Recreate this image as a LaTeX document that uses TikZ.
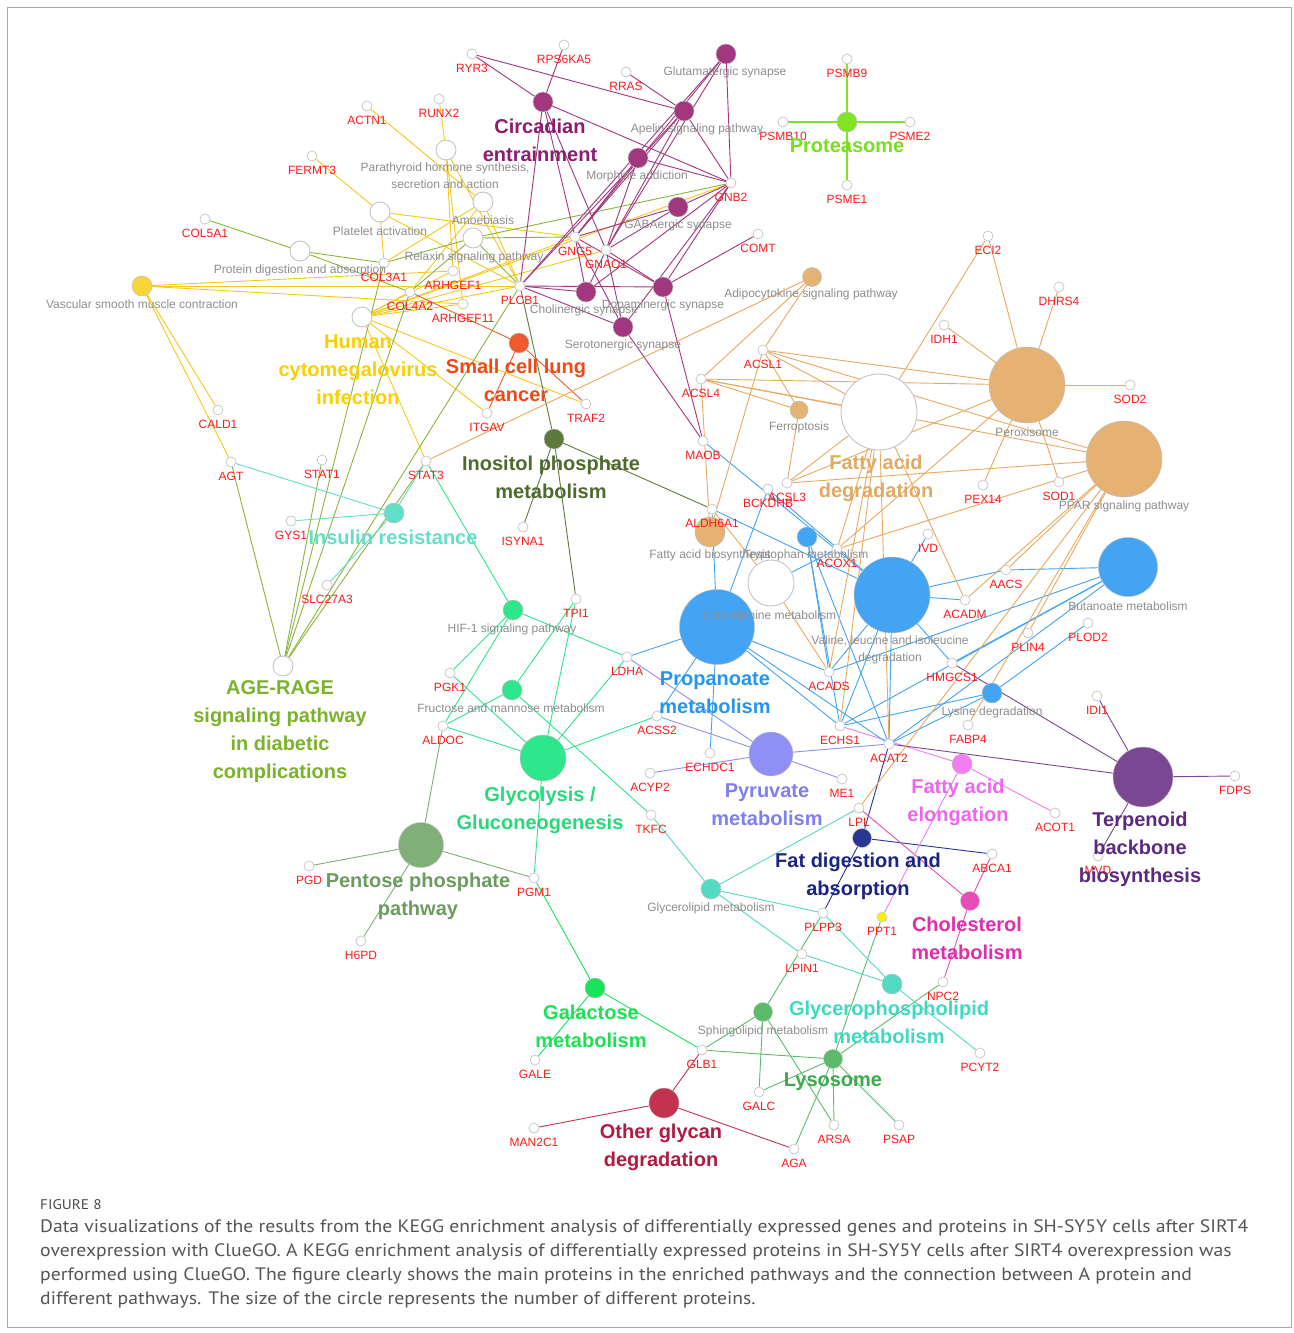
\documentclass[tikz,border=0pt]{standalone}
\usepackage{fontspec}
\setmainfont{Liberation Sans}
\newfontfamily\capfont{PT Sans}
\usetikzlibrary{backgrounds}

% palette
\definecolor{genered}{HTML}{FF1A1A}
\definecolor{pathgray}{HTML}{8E8E8E}
\definecolor{ringgray}{HTML}{C4C4C4}
\definecolor{framegray}{HTML}{A8A8A8}
\definecolor{capgray}{HTML}{555555}
\definecolor{cYel}{HTML}{F7C81C}
\definecolor{cYelF}{HTML}{F9D637}
\definecolor{cYelT}{HTML}{FAD000}
\definecolor{cOli}{HTML}{8CB43B}
\definecolor{cOliT}{HTML}{7BB22C}
\definecolor{cPur}{HTML}{A2367F}
\definecolor{cPurT}{HTML}{8B1C6E}
\definecolor{cLime}{HTML}{80E324}
\definecolor{cLimeT}{HTML}{77E01A}
\definecolor{cOra}{HTML}{F05A2C}
\definecolor{cOraT}{HTML}{EE4A18}
\definecolor{cDGr}{HTML}{5D7A3C}
\definecolor{cDGrT}{HTML}{4E6A2E}
\definecolor{cIns}{HTML}{62DFC9}
\definecolor{cGly}{HTML}{2EE68C}
\definecolor{cGlyT}{HTML}{28D97A}
\definecolor{cSage}{HTML}{80AF78}
\definecolor{cSageT}{HTML}{6C9C60}
\definecolor{cGal}{HTML}{19E35A}
\definecolor{cGalT}{HTML}{1DE056}
\definecolor{cCrim}{HTML}{C3334F}
\definecolor{cCrimT}{HTML}{B01C40}
\definecolor{cSph}{HTML}{5CBB6A}
\definecolor{cSphT}{HTML}{3BAA4C}
\definecolor{cTurq}{HTML}{52DAC3}
\definecolor{cTurqT}{HTML}{40D9C0}
\definecolor{cNavy}{HTML}{2A3594}
\definecolor{cNavyT}{HTML}{1A2580}
\definecolor{cMag}{HTML}{E84CB7}
\definecolor{cMagT}{HTML}{E02DAA}
\definecolor{cPink}{HTML}{F27CF0}
\definecolor{cPinkT}{HTML}{EE66EE}
\definecolor{cTerp}{HTML}{7B4692}
\definecolor{cTerpT}{HTML}{5B2A7E}
\definecolor{cViol}{HTML}{8F8FF6}
\definecolor{cViolT}{HTML}{7F7FF0}
\definecolor{cBlue}{HTML}{42A4F2}
\definecolor{cBlueT}{HTML}{2495F0}
\definecolor{cTan}{HTML}{E5B274}
\definecolor{cTanE}{HTML}{E8A95E}
\definecolor{cTanT}{HTML}{E0AA62}
\definecolor{cPPT}{HTML}{FFF200}

\tikzset{
  gene/.style={circle, draw=ringgray, fill=white, line width=0.7pt, inner sep=0pt, minimum size=10pt},
  hub/.style={circle, draw=gray!50, line width=0.5pt, inner sep=0pt},
  whub/.style={circle, draw=ringgray, fill=white, line width=0.9pt, inner sep=0pt},
  glab/.style={text=genered, font=\fontsize{12}{12}\selectfont, inner sep=0pt},
  plab/.style={text=pathgray, font=\fontsize{12}{17}\selectfont, inner sep=0pt, align=center},
  biglab/.style={font=\bfseries\fontsize{20}{28}\selectfont, inner sep=0pt, align=center},
  ed/.style={line width=0.9pt},
  capline/.style={anchor=base west, inner sep=0pt, text=capgray},
}

\newcommand{\genenode}[4][]{%
  \node[gene,#1] (#2) at (#3,#4) {};
  \node[glab] (#2-t) at (#3,#4+14) {#2};}
\newcommand{\hubnode}[5]{\node[hub, fill=#5, minimum size=#4pt] (#1) at (#2,#3) {};}
\newcommand{\whubnode}[4]{\node[whub, minimum size=#4pt] (#1) at (#2,#3) {};}
\newcommand{\capstyle}{\capfont\fontsize{18}{24}\selectfont}
\newcommand{\capfirst}{Data visualizations of the results from the KEGG enrichment analysis of differentially expressed genes and proteins in SH-SY5Y cells after SIRT4}
\newsavebox{\capmeasure}

\begin{document}
\sbox{\capmeasure}{\capstyle\capfirst}%
\pgfmathsetmacro{\capsc}{1208/\wd\capmeasure}%
\begin{tikzpicture}[x=1pt,y=-1pt]
\begin{pgfonlayer}{background}
  \path[use as bounding box, fill=white] (0,0) rectangle (1293,1333);
\end{pgfonlayer}
\draw[framegray, line width=1pt] (7.5,7.5) rectangle (1291,1327);

% ---------- pathway terms ----------
\hubnode{vsmc}{142}{286}{20}{cYelF}
\whubnode{protdig}{300}{251}{20}
\whubnode{platelet}{380}{212}{20}
\whubnode{parath}{446}{150}{20}
\whubnode{amoeb}{483}{202}{20}
\whubnode{relaxin}{473}{238}{20}
\whubnode{hcmv}{362}{317}{20}
\whubnode{agerage}{283}{666}{20}
\hubnode{circ}{543}{102}{20}{cPur}
\hubnode{glut}{726}{54}{20}{cPur}
\hubnode{apelin}{684}{111}{20}{cPur}
\hubnode{morph}{638}{158}{20}{cPur}
\hubnode{gaba}{678}{207}{20}{cPur}
\hubnode{dopa}{663}{287}{20}{cPur}
\hubnode{chol}{586}{292}{20}{cPur}
\hubnode{sero}{623}{327}{20}{cPur}
\hubnode{prot}{847}{122}{20}{cLime}
\hubnode{sclc}{519}{343}{20}{cOra}
\hubnode{inos}{554}{439}{20}{cDGr}
\hubnode{insul}{394}{513}{20}{cIns}
\hubnode{adipo}{812}{277}{19}{cTan}
\hubnode{ferro}{799}{410}{18}{cTan}
\whubnode{fad}{879}{412}{76}
\hubnode{perox}{1027}{385}{76}{cTan}
\hubnode{ppar}{1124}{459}{76}{cTan}
\hubnode{fab}{710}{532}{30}{cTan}
\hubnode{trp}{807}{537}{20}{cBlue}
\whubnode{bala}{771}{583}{46}
\hubnode{prop}{717}{627}{75}{cBlue}
\hubnode{val}{892}{595}{76}{cBlue}
\hubnode{buta}{1128}{567}{59}{cBlue}
\hubnode{lys}{992}{693}{20}{cBlue}
\hubnode{pyr}{771}{754}{44}{cViol}
\hubnode{elo}{962}{764}{20}{cPink}
\hubnode{terp}{1143}{777}{60}{cTerp}
\hubnode{fatdig}{862}{838}{19}{cNavy}
\hubnode{chole}{970}{901}{19}{cMag}
\hubnode{glyl}{711}{889}{20}{cTurq}
\hubnode{glyp}{892}{984}{20}{cTurq}
\hubnode{sph}{763}{1012}{19}{cSph}
\hubnode{lyso}{833}{1059}{19}{cSph}
\hubnode{oglyc}{664}{1103}{30}{cCrim}
\hubnode{galac}{595}{988}{20}{cGal}
\hubnode{pent}{421}{845}{45}{cSage}
\hubnode{glyc}{543}{758}{46}{cGly}
\hubnode{hif}{513}{610}{20}{cGly}
\hubnode{fruc}{512}{690}{20}{cGly}

% ---------- genes ----------
\genenode{RYR3}{472}{54}
\genenode{RPS6KA5}{564}{45}
\genenode{RRAS}{626}{72}
\genenode{RUNX2}{439}{99}
\genenode{ACTN1}{367}{106}
\genenode{FERMT3}{312}{156}
\genenode{COL5A1}{205}{219}
\genenode{COL3A1}{384}{263}
\genenode{ARHGEF1}{453}{271}
\genenode{COL4A2}{410}{292}
\genenode{ARHGEF11}{463}{304}
\genenode{PLCB1}{520}{286}
\genenode{GNG5}{575}{237}
\genenode{GNAO1}{606}{250}
\genenode{GNB2}{731}{183}
\genenode{COMT}{758}{234}
\genenode{PSMB9}{847}{59}
\genenode{PSMB10}{783}{122}
\genenode{PSME2}{910}{122}
\genenode{PSME1}{847}{185}
\genenode{ECI2}{988}{236}
\genenode{DHRS4}{1059}{287}
\genenode{IDH1}{944}{325}
\genenode{SOD2}{1130}{385}
\genenode{ACSL1}{763}{350}
\genenode{ACSL4}{701}{379}
\genenode{MAOB}{703}{441}
\genenode{TRAF2}{586}{404}
\genenode{ITGAV}{487}{413}
\genenode{CALD1}{218}{410}
\genenode{AGT}{231}{462}
\genenode{STAT1}{322}{460}
\genenode{STAT3}{426}{461}
\genenode{GYS1}{291}{521}
\genenode{SLC27A3}{327}{585}
\genenode{ISYNA1}{523}{527}
\genenode{TPI1}{576}{599}
\genenode{ACSL3}{787}{483}
\genenode{BCKDHB}{768}{489}
\genenode{ALDH6A1}{712}{509}
\genenode{ACOX1}{837}{549}
\genenode{IVD}{928}{534}
\genenode{PEX14}{983}{485}
\genenode{SOD1}{1059}{482}
\genenode{AACS}{1006}{570}
\genenode{ACADM}{965}{600}
\genenode{PLIN4}{1028}{633}
\genenode{PLOD2}{1088}{623}
\genenode{HMGCS1}{952}{663}
\genenode{ACADS}{829}{672}
\genenode{ECHS1}{840}{726}
\genenode{ACAT2}{889}{744}
\genenode{FABP4}{968}{725}
\genenode{IDI1}{1097}{696}
\genenode{FDPS}{1235}{776}
\genenode{ACOT1}{1055}{813}
\genenode{MVD}{1098}{856}
\genenode{ABCA1}{992}{854}
\genenode{LPL}{859}{808}
\genenode{ME1}{842}{779}
\genenode{ECHDC1}{710}{753}
\genenode{ACSS2}{657}{716}
\genenode{LDHA}{627}{657}
\genenode{ACYP2}{650}{773}
\genenode{TKFC}{651}{815}
\genenode{PGK1}{450}{673}
\genenode{ALDOC}{443}{726}
\genenode{PGD}{309}{866}
\genenode{PGM1}{534}{878}
\genenode{H6PD}{361}{941}
\genenode{GALE}{535}{1060}
\genenode{MAN2C1}{534}{1128}
\genenode{GLB1}{702}{1050}
\genenode{GALC}{759}{1092}
\genenode{ARSA}{834}{1125}
\genenode{PSAP}{899}{1125}
\genenode{AGA}{794}{1149}
\genenode{PLPP3}{823}{913}
\genenode[fill=cPPT, draw=gray!40]{PPT1}{882}{917}
\genenode{LPIN1}{802}{954}
\genenode{NPC2}{943}{982}
\genenode{PCYT2}{980}{1053}

% ---------- connectors ----------
\begin{pgfonlayer}{background}
\foreach \a/\b in {vsmc/CALD1, vsmc/AGT, vsmc/ARHGEF1, vsmc/PLCB1, vsmc/ARHGEF11,
  platelet/FERMT3, platelet/COL3A1, platelet/PLCB1, platelet/GNG5,
  parath/RUNX2, parath/ARHGEF1, parath/ARHGEF11, parath/PLCB1,
  amoeb/ACTN1, amoeb/COL3A1, amoeb/COL4A2, amoeb/PLCB1,
  hcmv/COL4A2, hcmv/ARHGEF1, hcmv/PLCB1, hcmv/GNG5, hcmv/GNB2, hcmv/GNAO1,
  hcmv/TRAF2, hcmv/ITGAV, hcmv/STAT3, hcmv/ARHGEF11}
  \draw[ed, cYel] (\a) -- (\b);
\foreach \a/\b in {protdig/COL5A1, protdig/COL3A1, protdig/COL4A2,
  agerage/AGT, agerage/STAT1, agerage/STAT3, agerage/COL3A1, agerage/COL4A2, agerage/PLCB1,
  relaxin/COL4A2, relaxin/PLCB1, relaxin/GNB2, relaxin/GNG5, relaxin/COL3A1}
  \draw[ed, cOli] (\a) -- (\b);
\foreach \a/\b in {circ/RYR3, circ/RPS6KA5, circ/PLCB1, circ/GNG5, circ/GNAO1, circ/GNB2,
  apelin/RYR3, apelin/RRAS, apelin/GNB2, apelin/GNG5, apelin/GNAO1, apelin/PLCB1,
  glut/GNB2, glut/GNG5, glut/GNAO1, glut/PLCB1,
  morph/GNB2, morph/GNG5, morph/GNAO1,
  gaba/GNB2, gaba/GNG5, gaba/GNAO1,
  dopa/GNB2, dopa/GNG5, dopa/GNAO1, dopa/COMT, dopa/MAOB, dopa/PLCB1,
  chol/PLCB1, chol/GNG5, chol/GNAO1, chol/GNB2,
  sero/PLCB1, sero/GNG5, sero/GNAO1, sero/GNB2, sero/MAOB}
  \draw[ed, cPur] (\a) -- (\b);
\foreach \b in {PSMB9, PSMB10, PSME2, PSME1} \draw[ed, line width=1.2pt, cLime] (prot) -- (\b);
\foreach \b in {COL4A2, ITGAV, TRAF2} \draw[ed, cOra] (sclc) -- (\b);
\foreach \b in {PLCB1, ISYNA1, TPI1, ALDH6A1} \draw[ed, cDGr] (inos) -- (\b);
\foreach \b in {AGT, GYS1, SLC27A3, STAT3} \draw[ed, cIns] (insul) -- (\b);
\foreach \a/\b in {hif/STAT3, hif/PGK1, hif/ALDOC, hif/LDHA,
  fruc/TPI1, fruc/ALDOC, fruc/TKFC,
  glyc/ALDOC, glyc/PGK1, glyc/TPI1, glyc/LDHA, glyc/ACSS2, glyc/PGM1}
  \draw[ed, cGly] (\a) -- (\b);
\foreach \b in {ALDOC, PGD, H6PD, PGM1} \draw[ed, cSage] (pent) -- (\b);
\foreach \b in {PGM1, GALE, GLB1} \draw[ed, cGal] (galac) -- (\b);
\foreach \b in {GLB1, MAN2C1, AGA} \draw[ed, cCrim] (oglyc) -- (\b);
\foreach \a/\b in {sph/GLB1, sph/GALC, sph/ARSA, sph/PLPP3,
  lyso/GLB1, lyso/GALC, lyso/ARSA, lyso/PSAP, lyso/AGA, lyso/NPC2, lyso/PPT1}
  \draw[ed, cSph] (\a) -- (\b);
\foreach \a/\b in {glyl/TKFC, glyl/LPL, glyl/PLPP3, glyl/LPIN1,
  glyp/PLPP3, glyp/LPIN1, glyp/PCYT2}
  \draw[ed, cTurq] (\a) -- (\b);
\foreach \b in {ACAT2, ABCA1, PLPP3} \draw[ed, cNavy] (fatdig) -- (\b);
\foreach \b in {LPL, ABCA1, NPC2} \draw[ed, cMag] (chole) -- (\b);
\foreach \b in {ECHS1, ACOT1, PPT1} \draw[ed, cPink] (elo) -- (\b);
\foreach \b in {HMGCS1, ACAT2, IDI1, FDPS, MVD} \draw[ed, cTerp] (terp) -- (\b);
\foreach \b in {LDHA, ACSS2, ACYP2, ME1, ACAT2} \draw[ed, cViol] (pyr) -- (\b);
\foreach \a/\b in {prop/LDHA, prop/ACSS2, prop/ECHDC1, prop/ALDH6A1, prop/BCKDHB,
  prop/ACADS, prop/ECHS1, prop/ACAT2,
  val/ALDH6A1, val/MAOB, val/BCKDHB, val/IVD, val/ACADM, val/AACS, val/ACADS,
  val/ECHS1, val/ACAT2, val/HMGCS1,
  trp/ACADS, trp/ECHS1, trp/ACAT2, bala/ACOX1,
  lys/ECHS1, lys/ACAT2, lys/PLOD2,
  buta/AACS, buta/HMGCS1, buta/ACADS, buta/ECHS1, buta/ACAT2}
  \draw[ed, cBlue] (\a) -- (\b);
\foreach \a/\b in {fad/ACSL1, fad/ACSL4, fad/ACSL3, fad/ECI2, fad/ACOX1, fad/ACADM,
  fad/ACADS, fad/ECHS1, fad/ACAT2,
  perox/ACSL1, perox/ACSL4, perox/ACSL3, perox/ECI2, perox/DHRS4, perox/IDH1,
  perox/SOD2, perox/SOD1, perox/PEX14, perox/ACOX1,
  ppar/ACSL1, ppar/ACSL4, ppar/ACSL3, ppar/ACOX1, ppar/ACADM, ppar/AACS,
  ppar/PLIN4, ppar/FABP4, ppar/LPL,
  ferro/ACSL1, ferro/ACSL4, ferro/ACSL3,
  fab/ACSL1, fab/ACSL4,
  adipo/ACSL1, adipo/ACSL4, adipo/STAT3,
  bala/ALDH6A1, bala/ACADS}
  \draw[ed, cTanE] (\a) -- (\b);
\end{pgfonlayer}

% ---------- term captions ----------
\node[plab] (P-vsmc) at (142,304) {Vascular smooth muscle contraction};
\node[plab] (P-protdig) at (300,270) {Protein digestion and absorption};
\node[plab] (P-platelet) at (380,231) {Platelet activation};
\node[plab] (P-parath) at (445,176) {Parathyroid hormone synthesis,\\secretion and action};
\node[plab] (P-amoeb) at (483,220) {Amoebiasis};
\node[plab] (P-relaxin) at (474,257) {Relaxin signaling pathway};
\node[plab] (P-glut) at (725,72) {Glutamatergic synapse};
\node[plab] (P-apelin) at (697,129) {Apelin signaling pathway};
\node[plab] (P-morph) at (637,176) {Morphine addiction};
\node[plab] (P-gaba) at (678,225) {GABAergic synapse};
\node[plab] (P-dopa) at (663,305) {Dopaminergic synapse};
\node[plab] (P-chol) at (584,310) {Cholinergic synapse};
\node[plab] (P-sero) at (623,345) {Serotonergic synapse};
\node[plab] (P-adipo) at (811,294) {Adipocytokine signaling pathway};
\node[plab] (P-ferro) at (799,427) {Ferroptosis};
\node[plab] (P-perox) at (1027,432) {Peroxisome};
\node[plab] (P-ppar) at (1124,506) {PPAR signaling pathway};
\node[plab] (P-fab) at (710,555) {Fatty acid biosynthesis};
\node[plab] (P-trp) at (806,555) {Tryptophan metabolism};
\node[plab] (P-bala) at (770,615) {beta-Alanine metabolism};
\node[plab] (P-val) at (890,650) {Valine, leucine and isoleucine\\degradation};
\node[plab] (P-buta) at (1128,606) {Butanoate metabolism};
\node[plab] (P-lys) at (992,712) {Lysine degradation};
\node[plab] (P-hif) at (512,629) {HIF-1 signaling pathway};
\node[plab] (P-fruc) at (511,708) {Fructose and mannose metabolism};
\node[plab] (P-glyl) at (711,908) {Glycerolipid metabolism};
\node[plab] (P-sph) at (763,1031) {Sphingolipid metabolism};

% ---------- group titles ----------
\node[biglab, text=cPurT] (B-circ) at (540,140) {Circadian\\entrainment};
\node[biglab, text=cLimeT] (B-prot) at (847,146) {Proteasome};
\node[biglab, text=cYelT] (B-hcmv) at (358,370) {Human\\cytomegalovirus\\infection};
\node[biglab, text=cOraT] (B-sclc) at (516,380) {Small cell lung\\cancer};
\node[biglab, text=cDGrT] (B-inos) at (551,477) {Inositol phosphate\\metabolism};
\node[biglab, text=cIns] (B-insul) at (393,537) {Insulin resistance};
\node[biglab, text=cTanT] (B-fad) at (876,478) {Fatty acid\\degradation};
\node[biglab, text=cOliT] (B-age) at (280,732) {AGE-RAGE\\signaling pathway\\in diabetic\\complications};
\node[biglab, text=cBlueT] (B-prop) at (715,693) {Propanoate\\metabolism};
\node[biglab, text=cViolT] (B-pyr) at (767,805) {Pyruvate\\metabolism};
\node[biglab, text=cPinkT] (B-elo) at (958,802) {Fatty acid\\elongation};
\node[biglab, text=cTerpT] (B-terp) at (1140,849) {Terpenoid\\backbone\\biosynthesis};
\node[biglab, text=cGlyT] (B-glyc) at (540,810) {Glycolysis /\\Gluconeogenesis};
\node[biglab, text=cNavyT] (B-fatdig) at (858,876) {Fat digestion and\\absorption};
\node[biglab, text=cSageT] (B-pent) at (418,896) {Pentose phosphate\\pathway};
\node[biglab, text=cMagT] (B-chole) at (967,938) {Cholesterol\\metabolism};
\node[biglab, text=cGalT] (B-galac) at (591,1026) {Galactose\\metabolism};
\node[biglab, text=cTurqT] (B-glyp) at (889,1022) {Glycerophospholipid\\metabolism};
\node[biglab, text=cSphT] (B-lyso) at (833,1082) {Lysosome};
\node[biglab, text=cCrimT] (B-oglyc) at (661,1147) {Other glycan\\degradation};

% ---------- figure caption ----------
\node[capline, text=capgray!90!black] (fig) at (40,1209) {\scalebox{\capsc}[1]{\capfont\fontsize{14}{16}\selectfont FIGURE 8}};
\node[capline] (cap1) at (40,1232) {\scalebox{\capsc}[1]{\capstyle\capfirst}};
\node[capline] (cap2) at (40,1256) {\scalebox{\capsc}[1]{\capstyle overexpression with ClueGO. A KEGG enrichment analysis of differentially expressed proteins in SH-SY5Y cells after SIRT4 overexpression was}};
\node[capline] (cap3) at (40,1280) {\scalebox{\capsc}[1]{\capstyle performed using ClueGO. The figure clearly shows the main proteins in the enriched pathways and the connection between A protein and}};
\node[capline] (cap4) at (40,1304) {\scalebox{\capsc}[1]{\capstyle different pathways. The size of the circle represents the number of different proteins.}};
\end{tikzpicture}
\end{document}
